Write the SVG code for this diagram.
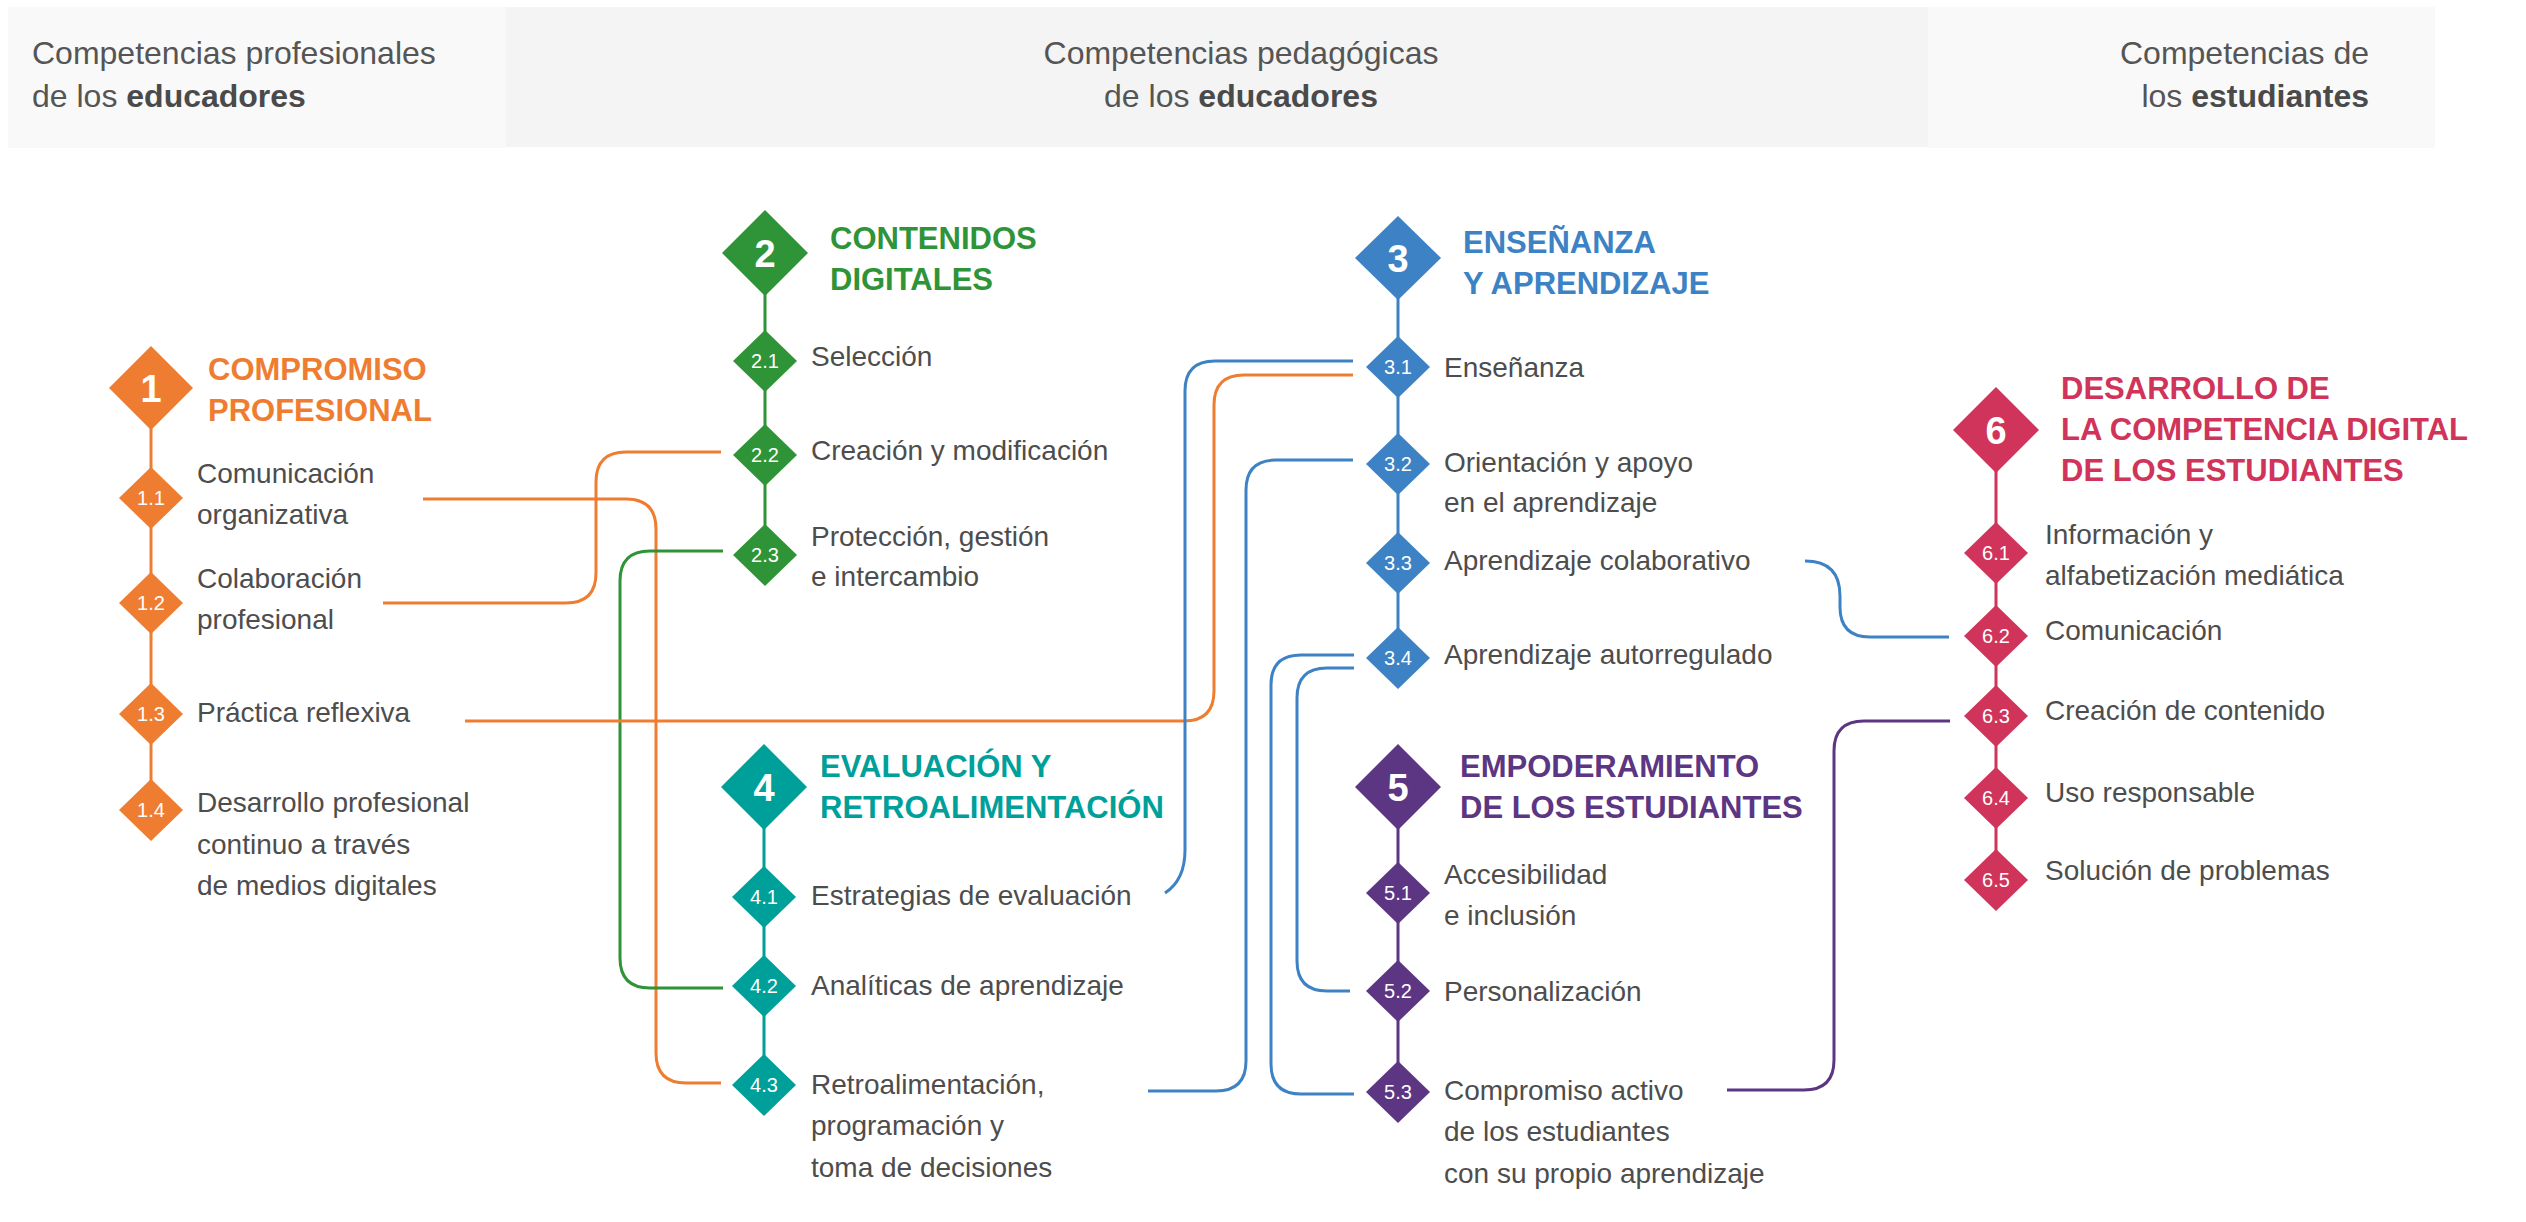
<svg xmlns="http://www.w3.org/2000/svg" width="2526" height="1222" viewBox="0 0 2526 1222">
<style>
text{font-family:"Liberation Sans",Arial,sans-serif}
.hd{font-size:32px;fill:#555}
.hb{font-weight:bold;fill:#4a4a4a}
.lb{font-size:28px;fill:#4d4d4d}
.tt{font-size:31px;font-weight:bold}
.big{font-size:38px;font-weight:bold;fill:#fff;text-anchor:middle}
.sm{font-size:20px;fill:#fff;text-anchor:middle}
.c{fill:none;stroke-width:3}
.sp{stroke-width:3}
</style>
<g id="headers">
<rect x="8" y="7" width="498" height="141" fill="#f9f9f9"/>
<rect x="506" y="7" width="1422" height="140" fill="#f4f4f4"/>
<rect x="1928" y="7" width="507" height="141" fill="#f9f9f9"/>
<text class="hd" x="32" y="64">Competencias profesionales</text>
<text class="hd" x="32" y="107">de los <tspan class="hb">educadores</tspan></text>
<text class="hd" x="1241" y="64" text-anchor="middle">Competencias pedagógicas</text>
<text class="hd" x="1241" y="107" text-anchor="middle">de los <tspan class="hb">educadores</tspan></text>
<text class="hd" x="2369" y="64" text-anchor="end">Competencias de</text>
<text class="hd" x="2369" y="107" text-anchor="end">los <tspan class="hb">estudiantes</tspan></text>
</g>
<g id="connectors">
<path class="c" stroke="#ef7d31" d="M423,499 H626 Q656,499 656,529 V1053 Q656,1083 686,1083 H721"/>
<path class="c" stroke="#ef7d31" d="M383,603 H566 Q596,603 596,573 V482 Q596,452 626,452 H721"/>
<path class="c" stroke="#2e9437" d="M723,551 H650 Q620,551 620,581 V958 Q620,988 650,988 H723"/>
<path class="c" stroke="#ef7d31" d="M465,721 H1184 Q1214,721 1214,691 V405 Q1214,375 1244,375 H1353"/>
<path class="c" stroke="#3d82c4" d="M1165,893 Q1185,880 1185,850 V391 Q1185,361 1215,361 H1353"/>
<path class="c" stroke="#3d82c4" d="M1148,1091 H1216 Q1246,1091 1246,1061 V490 Q1246,460 1276,460 H1353"/>
<path class="c" stroke="#3d82c4" d="M1805,561 Q1840,561 1840,596 V607 Q1840,637 1870,637 H1949"/>
<path class="c" stroke="#3d82c4" d="M1354,655 H1301 Q1271,655 1271,685 V1064 Q1271,1094 1301,1094 H1354"/>
<path class="c" stroke="#3d82c4" d="M1354,668 H1327 Q1297,668 1297,698 V961 Q1297,991 1327,991 H1350"/>
<path class="c" stroke="#5c3682" d="M1727,1090 H1804 Q1834,1090 1834,1060 V751 Q1834,721 1864,721 H1950"/>
</g>
<g id="n1" fill="#ef7d31">
<line class="sp" stroke="#ef7d31" x1="151" y1="388" x2="151" y2="810"/>
<path d="M151,346 L193,388 L151,430 L109,388Z"/><text class="big" x="151" y="402">1</text>
<text class="tt" x="208" y="380">COMPROMISO</text><text class="tt" x="208" y="421">PROFESIONAL</text>
<path d="M151,467 L183,498 L151,529 L119,498Z"/><text class="sm" x="151" y="505">1.1</text>
<text class="lb" x="197" y="483">Comunicación</text><text class="lb" x="197" y="524">organizativa</text>
<path d="M151,572 L183,603 L151,634 L119,603Z"/><text class="sm" x="151" y="610">1.2</text>
<text class="lb" x="197" y="588">Colaboración</text><text class="lb" x="197" y="629">profesional</text>
<path d="M151,683 L183,714 L151,745 L119,714Z"/><text class="sm" x="151" y="721">1.3</text>
<text class="lb" x="197" y="722">Práctica reflexiva</text>
<path d="M151,779 L183,810 L151,841 L119,810Z"/><text class="sm" x="151" y="817">1.4</text>
<text class="lb" x="197" y="812">Desarrollo profesional</text><text class="lb" x="197" y="854">continuo a través</text><text class="lb" x="197" y="895">de medios digitales</text>
</g>
<g id="n2" fill="#2e9437">
<line class="sp" stroke="#2e9437" x1="765" y1="253" x2="765" y2="555"/>
<path d="M765,210 L808,253 L765,296 L722,253Z"/><text class="big" x="765" y="267">2</text>
<text class="tt" x="830" y="249">CONTENIDOS</text><text class="tt" x="830" y="290">DIGITALES</text>
<path d="M765,330 L797,361 L765,392 L733,361Z"/><text class="sm" x="765" y="368">2.1</text>
<text class="lb" x="811" y="366">Selección</text>
<path d="M765,424 L797,455 L765,486 L733,455Z"/><text class="sm" x="765" y="462">2.2</text>
<text class="lb" x="811" y="460">Creación y modificación</text>
<path d="M765,524 L797,555 L765,586 L733,555Z"/><text class="sm" x="765" y="562">2.3</text>
<text class="lb" x="811" y="546">Protección, gestión</text><text class="lb" x="811" y="586">e intercambio</text>
</g>
<g id="n4" fill="#00a09a">
<line class="sp" stroke="#00a09a" x1="764" y1="787" x2="764" y2="1085"/>
<path d="M764,744 L807,787 L764,830 L721,787Z"/><text class="big" x="764" y="801">4</text>
<text class="tt" x="820" y="777">EVALUACIÓN Y</text><text class="tt" x="820" y="818">RETROALIMENTACIÓN</text>
<path d="M764,866 L796,897 L764,928 L732,897Z"/><text class="sm" x="764" y="904">4.1</text>
<text class="lb" x="811" y="905">Estrategias de evaluación</text>
<path d="M764,955 L796,986 L764,1017 L732,986Z"/><text class="sm" x="764" y="993">4.2</text>
<text class="lb" x="811" y="995">Analíticas de aprendizaje</text>
<path d="M764,1054 L796,1085 L764,1116 L732,1085Z"/><text class="sm" x="764" y="1092">4.3</text>
<text class="lb" x="811" y="1094">Retroalimentación,</text><text class="lb" x="811" y="1135">programación y</text><text class="lb" x="811" y="1177">toma de decisiones</text>
</g>
<g id="n3" fill="#3d82c4">
<line class="sp" stroke="#3d82c4" x1="1398" y1="258" x2="1398" y2="658"/>
<path d="M1398,216 L1441,258 L1398,300 L1355,258Z"/><text class="big" x="1398" y="272">3</text>
<text class="tt" x="1463" y="253">ENSEÑANZA</text><text class="tt" x="1463" y="294">Y APRENDIZAJE</text>
<path d="M1398,336 L1430,367 L1398,398 L1366,367Z"/><text class="sm" x="1398" y="374">3.1</text>
<text class="lb" x="1444" y="377">Enseñanza</text>
<path d="M1398,433 L1430,464 L1398,495 L1366,464Z"/><text class="sm" x="1398" y="471">3.2</text>
<text class="lb" x="1444" y="472">Orientación y apoyo</text><text class="lb" x="1444" y="512">en el aprendizaje</text>
<path d="M1398,532 L1430,563 L1398,594 L1366,563Z"/><text class="sm" x="1398" y="570">3.3</text>
<text class="lb" x="1444" y="570">Aprendizaje colaborativo</text>
<path d="M1398,627 L1430,658 L1398,689 L1366,658Z"/><text class="sm" x="1398" y="665">3.4</text>
<text class="lb" x="1444" y="664">Aprendizaje autorregulado</text>
</g>
<g id="n5" fill="#5c3682">
<line class="sp" stroke="#5c3682" x1="1398" y1="787" x2="1398" y2="1092"/>
<path d="M1398,744 L1441,787 L1398,830 L1355,787Z"/><text class="big" x="1398" y="801">5</text>
<text class="tt" x="1460" y="777">EMPODERAMIENTO</text><text class="tt" x="1460" y="818">DE LOS ESTUDIANTES</text>
<path d="M1398,862 L1430,893 L1398,924 L1366,893Z"/><text class="sm" x="1398" y="900">5.1</text>
<text class="lb" x="1444" y="884">Accesibilidad</text><text class="lb" x="1444" y="925">e inclusión</text>
<path d="M1398,960 L1430,991 L1398,1022 L1366,991Z"/><text class="sm" x="1398" y="998">5.2</text>
<text class="lb" x="1444" y="1001">Personalización</text>
<path d="M1398,1061 L1430,1092 L1398,1123 L1366,1092Z"/><text class="sm" x="1398" y="1099">5.3</text>
<text class="lb" x="1444" y="1100">Compromiso activo</text><text class="lb" x="1444" y="1141">de los estudiantes</text><text class="lb" x="1444" y="1183">con su propio aprendizaje</text>
</g>
<g id="n6" fill="#d0345a">
<line class="sp" stroke="#d0345a" x1="1996" y1="430" x2="1996" y2="880"/>
<path d="M1996,387 L2039,430 L1996,473 L1953,430Z"/><text class="big" x="1996" y="444">6</text>
<text class="tt" x="2061" y="399">DESARROLLO DE</text><text class="tt" x="2061" y="440">LA COMPETENCIA DIGITAL</text><text class="tt" x="2061" y="481">DE LOS ESTUDIANTES</text>
<path d="M1996,522 L2028,553 L1996,584 L1964,553Z"/><text class="sm" x="1996" y="560">6.1</text>
<text class="lb" x="2045" y="544">Información y</text><text class="lb" x="2045" y="585">alfabetización mediática</text>
<path d="M1996,605 L2028,636 L1996,667 L1964,636Z"/><text class="sm" x="1996" y="643">6.2</text>
<text class="lb" x="2045" y="640">Comunicación</text>
<path d="M1996,685 L2028,716 L1996,747 L1964,716Z"/><text class="sm" x="1996" y="723">6.3</text>
<text class="lb" x="2045" y="720">Creación de contenido</text>
<path d="M1996,767 L2028,798 L1996,829 L1964,798Z"/><text class="sm" x="1996" y="805">6.4</text>
<text class="lb" x="2045" y="802">Uso responsable</text>
<path d="M1996,849 L2028,880 L1996,911 L1964,880Z"/><text class="sm" x="1996" y="887">6.5</text>
<text class="lb" x="2045" y="880">Solución de problemas</text>
</g>
</svg>
